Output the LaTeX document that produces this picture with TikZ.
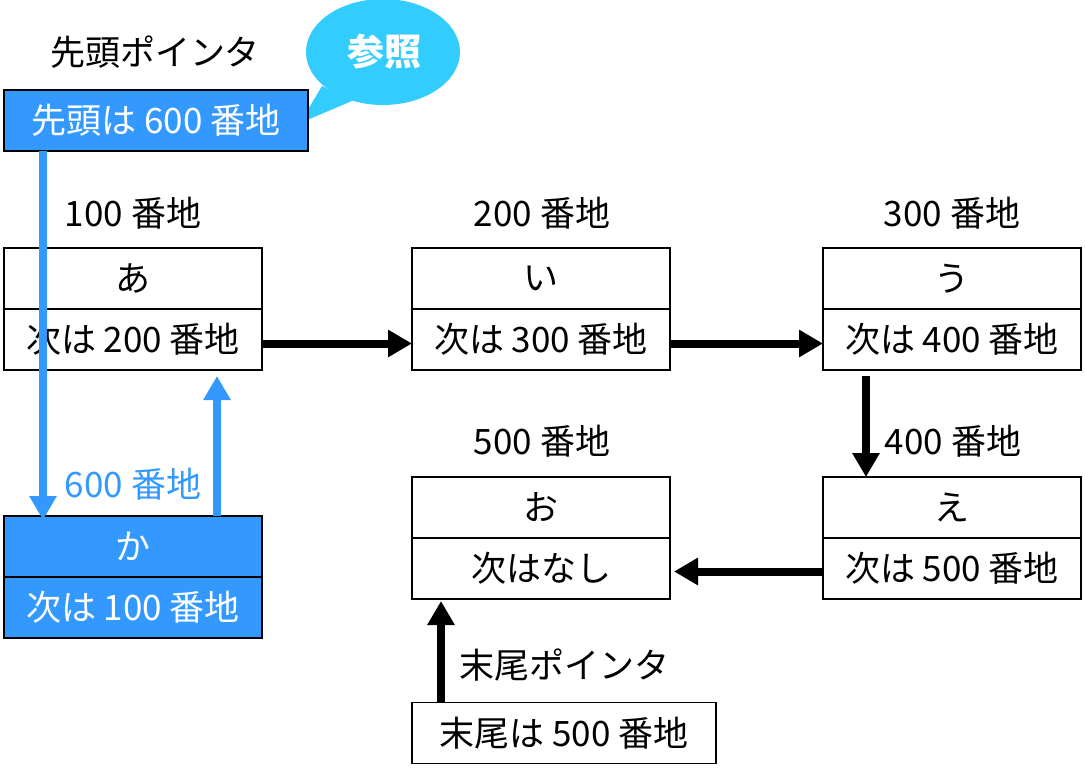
\documentclass[tikz,border=0pt]{standalone}
\usepackage{fontspec}
\setmainfont{Noto Sans CJK JP}
\usetikzlibrary{positioning,arrows.meta}
\definecolor{ptrblue}{RGB}{51,153,255}
\definecolor{callcyan}{RGB}{51,204,255}
\tikzset{
  big/.style={font=\fontsize{35}{40}\selectfont},
  cell/.style={big, draw=black, line width=1.5pt, minimum width=258pt, minimum height=61pt, inner sep=0pt, outer sep=0pt},
  bluecell/.style={cell, fill=ptrblue, text=white},
  addr/.style={big, inner sep=0pt},
  link/.style={line width=8pt, -{Triangle[length=24pt,width=26pt]}},
  bluelink/.style={link, draw=ptrblue, -{Triangle[length=24pt,width=26pt]}}
}

\begin{document}
\begin{tikzpicture}[x=1pt,y=-1pt]
                \useasboundingbox (0,0) rectangle (1085,778);
                % callout
                \fill[callcyan] (383,52) ellipse [x radius=77, y radius=53];
                \fill[callcyan] (322,86) -- (300,123) -- (352,101) -- cycle;
                \node[big, text=white, font=\fontsize{37}{42}\selectfont\bfseries] (ref) at (384,52) {参照};
                % head pointer
                \node[addr] (headlbl) at (155,52) {先頭ポインタ};
                \node[bluecell, minimum width=304pt] (head) at (156,120.5) {先頭は 600 番地};
                % addresses
                \node[addr] (adr100) at (133,213) {100 番地};
                \node[addr] (adr200) at (542,213) {200 番地};
                \node[addr] (adr300) at (952,213) {300 番地};
                \node[addr] (adr500) at (542,441) {500 番地};
                \node[addr] (adr400) at (953,441) {400 番地};
                \node[addr, text=ptrblue] (adr600) at (133,484) {600 番地};
                % list cells
                \node[cell] (a1) at (133,278.5) {あ};
                \node[cell, below=0pt of a1] (a2) {次は 200 番地};
                \node[cell] (i1) at (541,278.5) {い};
                \node[cell, below=0pt of i1] (i2) {次は 300 番地};
                \node[cell] (u1) at (952,278.5) {う};
                \node[cell, below=0pt of u1] (u2) {次は 400 番地};
                \node[cell] (e1) at (952,507.5) {え};
                \node[cell, below=0pt of e1] (e2) {次は 500 番地};
                \node[cell] (o1) at (541,507.5) {お};
                \node[cell, below=0pt of o1] (o2) {次はなし};
                \node[bluecell] (k1) at (133,546.5) {か};
                \node[bluecell, below=0pt of k1] (k2) {次は 100 番地};
                % tail pointer
                \node[addr] (taillbl) at (564,665) {末尾ポインタ};
                \node[cell, minimum width=304pt] (tail) at (564,733) {末尾は 500 番地};
                % links
                \draw[link] ([yshift=-4pt]a2.east) -- ([yshift=-4pt]i2.west);
                \draw[link] ([yshift=-4pt]i2.east) -- ([yshift=-4pt]u2.west);
                \draw[link] ([xshift=-86pt,yshift=-6pt]u2.south) -- ([xshift=-86pt]e1.north);
                \draw[link] ([yshift=-3pt]e2.west) -- ([xshift=4pt,yshift=-3pt]o2.east);
                \draw[link] ([xshift=-123pt]tail.north) -- ([xshift=-100pt,yshift=-2pt]o2.south);
                \draw[bluelink] ([xshift=-113pt]head.south) -- ([xshift=-90pt,yshift=-4pt]k1.north);
                \draw[bluelink] ([xshift=84pt]k1.north) -- ([xshift=84pt,yshift=-6pt]a2.south);
            \end{tikzpicture}
\end{document}
